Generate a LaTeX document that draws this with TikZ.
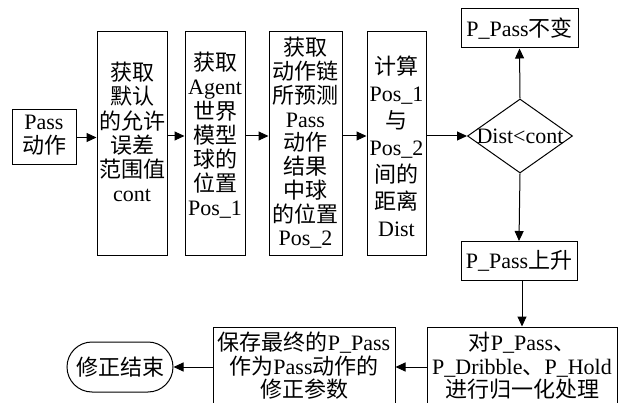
\documentclass[tikz,border=0pt]{standalone}
\usepackage{fontspec}
\setmainfont{Liberation Serif}
\newfontfamily\cjk{Noto Sans CJK SC}
\newcommand\zh[1]{{\cjk #1}}
\usetikzlibrary{arrows.meta,shapes.geometric}
\begin{document}
\begin{tikzpicture}[x=1pt,y=-1pt,
  box/.style={draw,line width=1pt,inner sep=0pt},
  txt/.style={inner sep=0pt,align=center,font=\fontsize{22}{24.2}\selectfont},
  arr/.style={line width=1pt,-{Triangle[length=10pt,width=9pt]}}]
\useasboundingbox (0,0) rectangle (626,403);
% boxes
\node[box,minimum width=64pt,minimum height=55pt] (pass) at (44,137.5) {};
\node[txt] at (44,135) {Pass\\\zh{动作}};
\node[box,minimum width=70pt,minimum height=224pt] (b2) at (132,144) {};
\node[txt] at (132,132) {\zh{获取}\\\zh{默认}\\\zh{的允许}\\\zh{误差}\\\zh{范围值}\\cont};
\node[box,minimum width=60pt,minimum height=224pt] (b3) at (215,144) {};
\node[txt] at (215,135.5) {\zh{获取}\\Agent\\\zh{世界}\\\zh{模型}\\\zh{球的}\\\zh{位置}\\Pos\_1};
\node[box,minimum width=73pt,minimum height=224pt] (b4) at (305.5,144) {};
\node[txt,font=\fontsize{22}{23.75}\selectfont] at (305.5,143) {\zh{获取}\\\zh{动作链}\\\zh{所预测}\\Pass\\\zh{动作}\\\zh{结果}\\\zh{中球}\\\zh{的位置}\\Pos\_2};
\node[box,minimum width=59pt,minimum height=224pt] (b5) at (396.5,144) {};
\node[txt,font=\fontsize{22}{27}\selectfont] at (396.5,146) {\zh{计算}\\Pos\_1\\\zh{与}\\Pos\_2\\\zh{间的}\\\zh{距离}\\Dist};
% decision
\node[diamond,draw,line width=1pt,minimum width=105pt,minimum height=74pt,inner sep=0pt] (d) at (520,136) {};
\node[txt] (dt) at (520,136) {Dist<cont};
\node[box,minimum width=117pt,minimum height=39pt] (keep) at (519.5,28.5) {};
\node[txt] at (519.5,28.5) {P\_Pass\zh{不变}};
\node[box,minimum width=116pt,minimum height=39pt] (up) at (519,261) {};
\node[txt] at (519,261) {P\_Pass\zh{上升}};
% bottom row
\node[box,minimum width=190pt,minimum height=80pt] (norm) at (522,367) {};
\node[txt,font=\fontsize{22}{23.5}\selectfont] at (522,366) {\zh{对}P\_Pass\zh{、}\\P\_Dribble\zh{、}P\_Hold\\\zh{进行归一化处理}};
\node[box,minimum width=182pt,minimum height=80pt] (save) at (304,367) {};
\node[txt,font=\fontsize{22}{23.5}\selectfont] at (304,366) {\zh{保存最终的}P\_Pass\\\zh{作为}Pass\zh{动作的}\\\zh{修正参数}};
\node[box,rounded corners=25pt,minimum width=106pt,minimum height=50pt] (end) at (120,367) {};
\node[txt] at (120,367) {\zh{修正结束}};
% connectors
\draw[arr] (pass.east) -- (pass.east -| b2.west);
\draw[arr] (b2.east |- d) -- (b3.west |- d);
\draw[arr] (b3.east |- d) -- (b4.west |- d);
\draw[arr] (b4.east |- d) -- (b5.west |- d);
\draw[arr] (b5.east |- d) -- (d.west);
\draw[arr] (d.north) -- (keep.south);
\draw[arr] (d.south) -- (up.north);
\draw[arr] (up.south -| norm.north) -- (norm.north);
\draw[arr] (norm.west) -- (save.east);
\draw[arr] (save.west) -- (end.east);
\end{tikzpicture}
\end{document}
